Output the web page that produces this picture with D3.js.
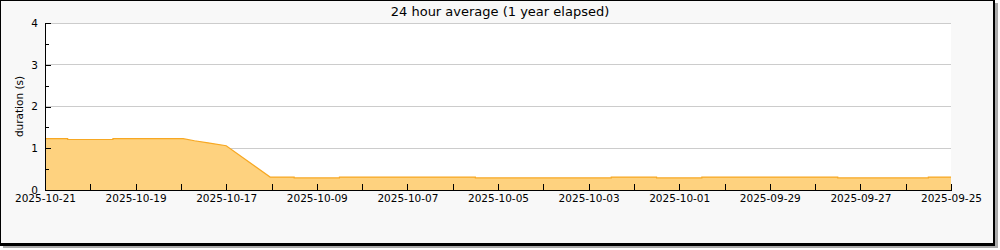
<!DOCTYPE html>
<html>
<head>
<meta charset="utf-8">
<script src="https://cdn.jsdelivr.net/npm/d3@7/dist/d3.min.js"></script>
<style>
  body { margin: 0; background: #fff; }
  svg { display: block; font-family: "DejaVu Sans", sans-serif; }
</style>
</head>
<body>
<script>
// tick labels along the x axis (one every second day slot; the data has a gap after 10-17)
const dayLabels = [
  "2025-10-21", "2025-10-19", "2025-10-17", "2025-10-09", "2025-10-07", "2025-10-05",
  "2025-10-03", "2025-10-01", "2025-09-29", "2025-09-27", "2025-09-25"
];

// sample positions (in day slots from the left edge) and the 24h average duration (s)
const samplePos = [
  0, 0.5, 0.5, 1.5, 1.5, 3.05, 3.3, 3.6, 4.0, 4.97,
  5.5, 5.5, 6.5, 6.5, 9.5, 9.5, 12.5, 12.5, 13.5, 13.5,
  14.5, 14.5, 17.5, 17.5, 19.5, 19.5, 20
];
const durations = [
  1.23, 1.23, 1.21, 1.21, 1.23, 1.23, 1.18, 1.13, 1.06, 0.31,
  0.31, 0.29, 0.29, 0.31, 0.31, 0.29, 0.29, 0.31, 0.31, 0.29,
  0.29, 0.31, 0.31, 0.29, 0.29, 0.31, 0.31
];

const yTicks = [0, 1, 2, 3, 4];
const yMinorTicks = [0.5, 1.5, 2.5, 3.5];

const chartTitle = "24 hour average (1 year elapsed)";
const yTitle = "duration (s)";

const width = 1000;
const height = 250;
const plot = { left: 45, right: 951, top: 23, bottom: 190 };

const svg = d3
  .select("body")
  .append("svg")
  .attr("width", width)
  .attr("height", height)
  .attr("viewBox", [0, 0, width, height]);

// frame with drop shadow
svg.append("rect")
  .attr("x", 3).attr("y", 3)
  .attr("width", 995).attr("height", 245)
  .attr("fill", "#aaa");
svg.append("rect")
  .attr("x", 0.5).attr("y", 0.5)
  .attr("width", 993).attr("height", 243)
  .attr("fill", "#f8f8f8")
  .attr("stroke", "#000");
svg.append("path")
  .attr("d", "M994,0V245H0")
  .attr("fill", "none")
  .attr("stroke", "#000")
  .attr("stroke-width", 2);

const x = d3.scaleLinear().domain([0, 20]).range([plot.left, plot.right]);
const y = d3.scaleLinear().domain([0, 4]).range([plot.bottom, plot.top]);

// plot background
svg.append("rect")
  .attr("x", plot.left).attr("y", plot.top)
  .attr("width", plot.right - plot.left)
  .attr("height", plot.bottom - plot.top)
  .attr("fill", "#fff");

// horizontal grid
svg.append("g")
  .attr("shape-rendering", "crispEdges")
  .selectAll("line")
  .data(yTicks.filter((d) => d > 0))
  .join("line")
  .attr("x1", plot.left)
  .attr("x2", plot.right)
  .attr("y1", (d) => y(d))
  .attr("y2", (d) => y(d))
  .attr("stroke", "#ccc");

const data = samplePos.map((p, i) => [p, durations[i]]);

const area = d3
  .area()
  .x((d) => x(d[0]))
  .y0(y(0))
  .y1((d) => y(d[1]));

const line = d3
  .line()
  .x((d) => x(d[0]))
  .y((d) => y(d[1]));

svg.append("path")
  .datum(data)
  .attr("d", area)
  .attr("fill", "#fed27f");

svg.append("path")
  .datum(data)
  .attr("d", line)
  .attr("fill", "none")
  .attr("stroke", "#f7a823")
  .attr("stroke-width", 1.2);

// axes, ticks pointing into the plot
const tickFont = "10.5px 'DejaVu Sans', sans-serif";

const yAxis = svg.append("g")
  .attr("transform", `translate(${plot.left},0)`)
  .call(
    d3.axisLeft(y)
      .tickValues(yTicks)
      .tickFormat(d3.format("d"))
      .tickSizeInner(-6)
      .tickSizeOuter(0)
      .tickPadding(7)
  );

svg.append("g")
  .attr("transform", `translate(${plot.left},0)`)
  .call(
    d3.axisLeft(y)
      .tickValues(yMinorTicks)
      .tickFormat("")
      .tickSizeInner(-4)
      .tickSizeOuter(0)
  )
  .call((g) => g.select(".domain").remove());

const majorX = dayLabels.map((_, i) => i * 2);
const minorX = dayLabels.slice(1).map((_, i) => i * 2 + 1);

const xAxis = svg.append("g")
  .attr("transform", `translate(0,${plot.bottom})`)
  .call(
    d3.axisBottom(x)
      .tickValues(majorX)
      .tickFormat((d) => dayLabels[d / 2])
      .tickSizeInner(-6)
      .tickSizeOuter(0)
      .tickPadding(5)
  );

svg.append("g")
  .attr("transform", `translate(0,${plot.bottom})`)
  .call(
    d3.axisBottom(x)
      .tickValues(minorX)
      .tickFormat("")
      .tickSizeInner(-6)
      .tickSizeOuter(0)
  )
  .call((g) => g.select(".domain").remove());

svg.selectAll(".tick text")
  .style("font", tickFont)
  .attr("fill", "#000");
svg.selectAll(".domain, .tick line")
  .attr("stroke", "#000")
  .attr("shape-rendering", "crispEdges");

// titles
svg.append("text")
  .attr("x", 500)
  .attr("y", 16)
  .attr("text-anchor", "middle")
  .style("font-size", "13px")
  .text(chartTitle);

svg.append("text")
  .attr("transform", `translate(23,${(plot.top + plot.bottom) / 2}) rotate(-90)`)
  .attr("text-anchor", "middle")
  .style("font-size", "10.5px")
  .text(yTitle);
</script>
</body>
</html>
